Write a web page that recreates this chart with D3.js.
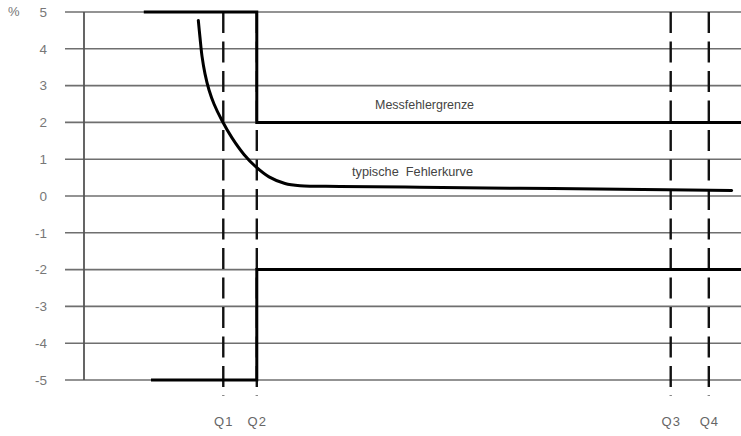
<!DOCTYPE html>
<html>
<head>
<meta charset="utf-8">
<script src="https://cdn.jsdelivr.net/npm/d3@7"></script>
<style>
  html, body { margin: 0; padding: 0; background: #fff; }
  svg { display: block; }
</style>
</head>
<body>
<svg id="chart" width="741" height="436"></svg>
<script>
// ---- data ----
const yTicks = [-5, -4, -3, -2, -1, 0, 1, 2, 3, 4, 5];
const qNames = ["Q1", "Q2", "Q3", "Q4"];
const qValues = [21.2, 26.3, 89.3, 95.1];

// Messfehlergrenze (upper / lower limit), x in relative flow units
const upperX = [9.1, 26.3, 26.3, 100];
const upperY = [5, 5, 2, 2];
const lowerX = [10.2, 26.3, 26.3, 100];
const lowerY = [-5, -5, -2, -2];

// typische Fehlerkurve
const curveX = [17.40, 17.66, 17.96, 18.42, 19.03, 19.79, 21.00, 22.53, 24.35, 26.18, 28.16, 30.59, 32.88, 38.96, 51.14, 66.36, 81.58, 98.58];
const curveY = [4.77, 4.3, 3.8, 3.32, 2.88, 2.5, 2.05, 1.58, 1.13, 0.79, 0.52, 0.34, 0.28, 0.26, 0.24, 0.21, 0.185, 0.15];

const labels = [
  { text: "Messfehlergrenze", x: 44.3, y: 2.5, len: 99 },
  { text: "typische\u00a0\u00a0Fehlerkurve", x: 40.8, y: 0.68, len: 121 }
];

// ---- scales ----
const svg = d3.select("#chart");
const xs = d3.scaleLinear().domain([0, 100]).range([84, 741]);
const ys = d3.scaleLinear().domain([-5, 5]).range([380, 12]);
const gridExtLeft = 19;

// gridlines
svg.append("g").selectAll("line").data(yTicks).join("line")
  .attr("x1", xs(0) - gridExtLeft).attr("x2", xs(100))
  .attr("y1", d => ys(d)).attr("y2", d => ys(d))
  .attr("stroke", "#6f6f6f").attr("stroke-width", 1.6);

// vertical axis line
svg.append("line")
  .attr("x1", xs(0)).attr("x2", xs(0))
  .attr("y1", ys(5)).attr("y2", ys(-5))
  .attr("stroke", "#555").attr("stroke-width", 1.8);

// y labels
const yAxis = d3.axisLeft(ys).tickValues(yTicks).tickSize(0).tickPadding(37).tickFormat(d => String(d));
const gy = svg.append("g").attr("transform", `translate(${xs(0)},0)`).call(yAxis);
gy.select(".domain").remove();
gy.selectAll("text").attr("font-family", "Liberation Sans, Arial, sans-serif")
  .attr("font-size", 13.5).attr("fill", "#777");

svg.append("text").text("%")
  .attr("x", 8).attr("y", ys(5)).attr("dy", "0.32em")
  .attr("font-family", "Liberation Sans, Arial, sans-serif")
  .attr("font-size", 13).attr("fill", "#777");

// Q dashed lines
svg.append("g").selectAll("line").data(qValues).join("line")
  .attr("x1", d => xs(d)).attr("x2", d => xs(d))
  .attr("y1", ys(5)).attr("y2", ys(-5) + 16)
  .attr("stroke", "#111").attr("stroke-width", 2.4)
  .attr("stroke-dasharray", "21,8.5");

// Q labels
const xAxis = d3.axisBottom(xs).tickValues(qValues).tickSize(0).tickPadding(37)
  .tickFormat((d, i) => qNames[i]);
const gx = svg.append("g").attr("transform", `translate(0,${ys(-5)})`).call(xAxis);
gx.select(".domain").remove();
gx.selectAll("text").attr("font-family", "Liberation Sans, Arial, sans-serif")
  .attr("font-size", 13).attr("fill", "#666").attr("letter-spacing", "1px");

// limit lines
const line = d3.line().x(d => xs(d[0])).y(d => ys(d[1]));
svg.append("path").datum(upperX.map((x, i) => [x, upperY[i]]))
  .attr("d", line).attr("fill", "none").attr("stroke", "#000").attr("stroke-width", 3);
svg.append("path").datum(lowerX.map((x, i) => [x, lowerY[i]]))
  .attr("d", line).attr("fill", "none").attr("stroke", "#000").attr("stroke-width", 3);

// typical error curve
const curveLine = d3.line().x(d => xs(d[0])).y(d => ys(d[1])).curve(d3.curveCatmullRom.alpha(0.5));
svg.append("path").datum(curveX.map((x, i) => [x, curveY[i]]))
  .attr("d", curveLine).attr("fill", "none").attr("stroke", "#000")
  .attr("stroke-width", 3).attr("stroke-linecap", "round");

// annotations
svg.append("g").selectAll("text").data(labels).join("text")
  .text(d => d.text)
  .attr("x", d => xs(d.x)).attr("y", d => ys(d.y)).attr("dy", "0.35em")
  .attr("textLength", d => d.len).attr("lengthAdjust", "spacingAndGlyphs")
  .attr("font-family", "Liberation Sans, Arial, sans-serif")
  .attr("font-size", 13).attr("fill", "#444");
</script>
</body>
</html>
